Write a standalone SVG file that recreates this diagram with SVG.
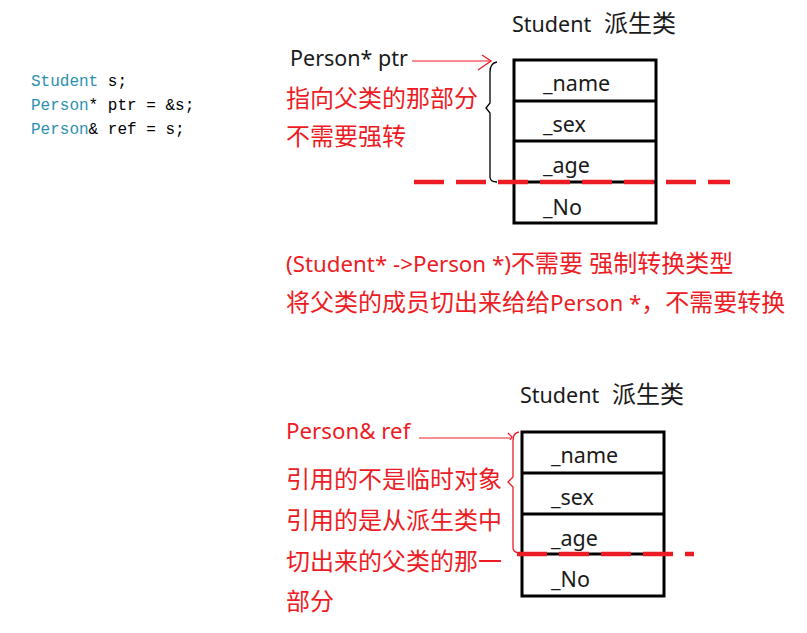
<svg xmlns="http://www.w3.org/2000/svg" width="807" height="633" viewBox="0 0 807 633">
<style>
.code{font-family:"Liberation Mono",monospace;font-size:16px;fill:#000}
.ty{fill:#2b91af}
.lbl{font-family:"Noto Sans","Noto Sans CJK SC",sans-serif;font-size:21.5px;fill:#1a1a1a}
.cjk{font-size:24px}
.red{font-family:"Noto Sans","Noto Sans CJK SC",sans-serif;font-size:24px;fill:#ed1c24}
.rl{font-size:22.3px}
.box{fill:#fff;stroke:#000;stroke-width:3}
.div{stroke:#000;stroke-width:3}
.dash{stroke:#ed1c24;stroke-width:4.5;stroke-dasharray:30 12;fill:none}
.thin{fill:none;stroke-width:1.3}
</style>
<rect width="807" height="633" fill="#fff"/>
<g id="code">
<text class="code" x="31" y="86"><tspan class="ty">Student</tspan> s;</text>
<text class="code" x="31" y="110"><tspan class="ty">Person</tspan>* ptr = &amp;s;</text>
<text class="code" x="31" y="134"><tspan class="ty">Person</tspan>&amp; ref = s;</text>
</g>
<g id="top-student">
<text class="lbl" x="512" y="32">Student<tspan class="cjk" x="604">派生类</tspan></text>
<rect class="box" x="514" y="60" width="142" height="163"/>
<line class="div" x1="514" y1="101" x2="656" y2="101"/>
<line class="div" x1="514" y1="141" x2="656" y2="141"/>
<line class="div" x1="514" y1="182" x2="656" y2="182"/>
<text class="lbl" x="543" y="91">_name</text>
<text class="lbl" x="543" y="132">_sex</text>
<text class="lbl" x="543" y="173">_age</text>
<text class="lbl" x="543" y="215">_No</text>
</g>
<g id="top-labels">
<text class="lbl" x="290" y="66">Person* ptr</text>
<text class="red" x="286" y="107">指向父类的那部分</text>
<text class="red" x="286" y="145">不需要强转</text>
<text class="red" x="286" y="272"><tspan class="rl">(Student* -&gt;Person *)</tspan>不需要 强制转换类型</text>
<text class="red" x="286" y="311">将父类的成员切出来给给<tspan class="rl">Person *</tspan>，不需要转换</text>
</g>
<g id="bottom-student">
<text class="lbl" x="520" y="403">Student<tspan class="cjk" x="612">派生类</tspan></text>
<rect class="box" x="522" y="432" width="142" height="164"/>
<line class="div" x1="522" y1="473" x2="664" y2="473"/>
<line class="div" x1="522" y1="514" x2="664" y2="514"/>
<line class="div" x1="522" y1="554" x2="664" y2="554"/>
<text class="lbl" x="551" y="463">_name</text>
<text class="lbl" x="551" y="505">_sex</text>
<text class="lbl" x="551" y="546">_age</text>
<text class="lbl" x="551" y="587">_No</text>
</g>
<g id="bottom-labels">
<text class="red" x="286" y="439"><tspan class="rl">Person&amp; ref</tspan></text>
<text class="red" x="286" y="488">引用的不是临时对象</text>
<text class="red" x="286" y="529">引用的是从派生类中</text>
<text class="red" x="286" y="570">切出来的父类的那一</text>
<text class="red" x="286" y="610">部分</text>
</g>
<g id="connectors">
<line class="dash" x1="414" y1="182" x2="730" y2="182"/>
<line class="dash" x1="517" y1="554" x2="694" y2="554"/>
<line x1="412" y1="61" x2="490" y2="61" stroke="#ed1c24" stroke-width="1.2"/>
<polyline points="482,55 491,61 478,70" class="thin" stroke="#ed1c24"/>
<path d="M497,62 Q490,63 490,72 L490,103 L486,108 L490,113 L490,177 Q490,182 497,182" class="thin" stroke="#000"/>
<line x1="419" y1="438" x2="510" y2="438" stroke="#ed1c24" stroke-width="1.2"/>
<path d="M519,432 Q513,433 513,440 L513,477 L508,482 L513,487 L513,548 Q513,552 519,553" class="thin" stroke="#ed1c24"/>
<polyline points="508,433 512,437 510,440" class="thin" stroke="#ed1c24"/>
</g>
</svg>
